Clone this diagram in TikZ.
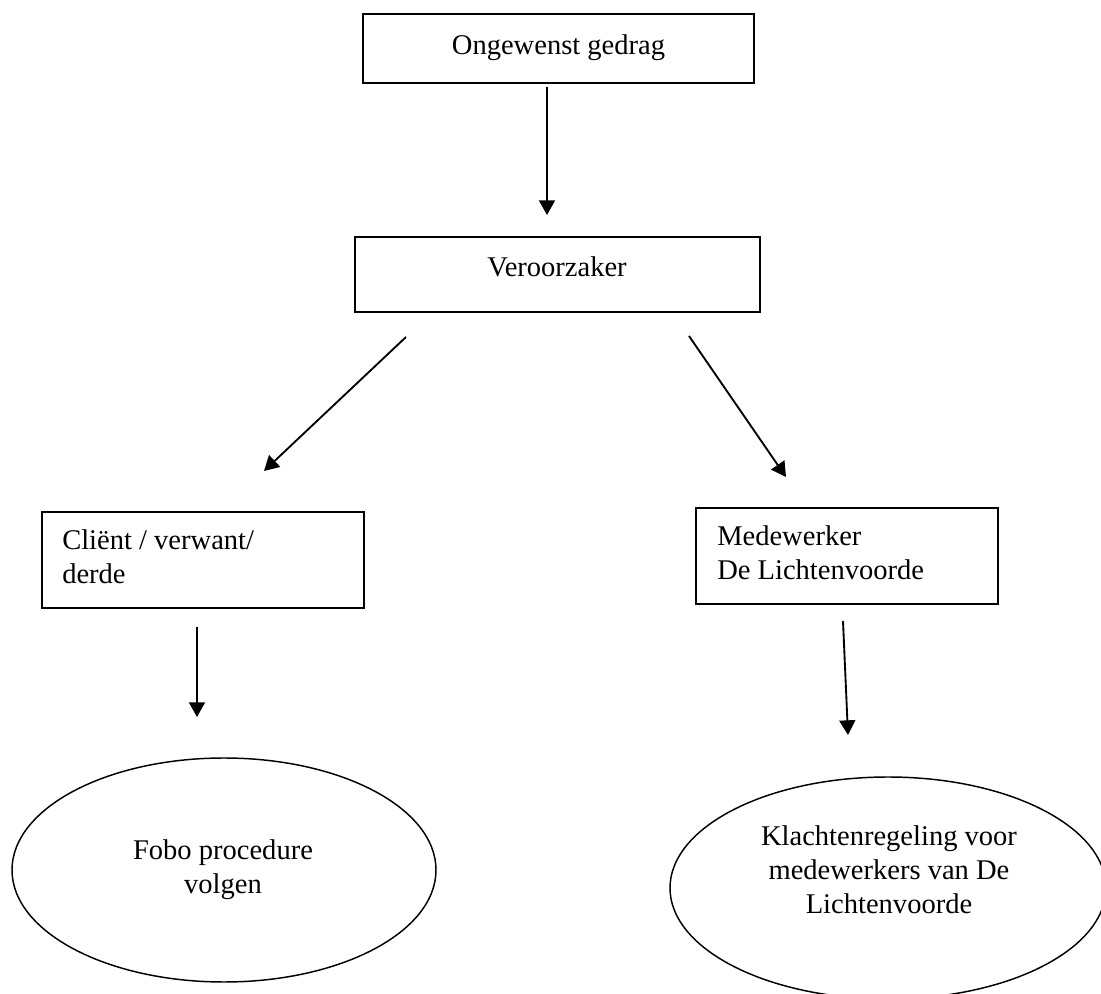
\documentclass[tikz,border=0pt]{standalone}
\usepackage{fontspec}
\setmainfont{Liberation Serif}
\usetikzlibrary{arrows.meta,shapes.geometric}
\tikzset{
  boxnode/.style={draw=black, line width=1.3pt, rectangle, inner sep=0pt},
  ovalnode/.style={draw=black, line width=1.1pt, ellipse, inner sep=0pt},
  txt/.style={inner sep=0pt, font=\fontsize{21.4pt}{25.5pt}\selectfont},
  conn/.style={line width=1.4pt, -{Triangle[length=11pt,width=12pt]}}
}
\begin{document}
\begin{tikzpicture}[x=0.75pt,y=-0.75pt]
\clip (0,0) rectangle (1101,994);
\fill[white] (0,0) rectangle (1101,994);
% shapes
\node[boxnode, minimum width=293.25pt, minimum height=51.75pt] (b1) at (558.5,48.5) {};
\node[boxnode, minimum width=303.75pt, minimum height=56.25pt] (b2) at (557.5,274.5) {};
\node[boxnode, minimum width=241.5pt, minimum height=72pt] (b3) at (203,560) {};
\node[boxnode, minimum width=226.5pt, minimum height=72pt] (b4) at (847,556) {};
\node[ovalnode, minimum width=318pt, minimum height=168pt] (e1) at (224,870) {};
\node[ovalnode, minimum width=327pt, minimum height=166.5pt] (e2) at (888,888) {};
% texts
\node[txt] (t1) at (558.5,47.5) {Ongewenst gedrag};
\node[txt] (t2) at (557,267) {Veroorzaker};
\node[txt, align=left, anchor=west] (t3) at (62,557) {Cliënt / verwant/\\derde};
\node[txt, align=left, anchor=west] (t4) at (717,552.5) {Medewerker\\De Lichtenvoorde};
\node[txt, align=center] (t5) at (223,869.5) {Fobo procedure\\volgen};
\node[txt, align=center] (t6) at (889,870) {Klachtenregeling voor\\medewerkers van De\\Lichtenvoorde};
% connector end points (arrows float between the shapes)
\coordinate (a1s) at (547,87);  \coordinate (a1e) at (547,215);
\coordinate (a2s) at (406,337); \coordinate (a2e) at (264,471);
\coordinate (a3s) at (689,336); \coordinate (a3e) at (786,477);
\coordinate (a4s) at (197,627); \coordinate (a4e) at (197,717);
\coordinate (a5s) at (843,621); \coordinate (a5e) at (848,735);
\draw[conn] (a1s) -- (a1e);
\draw[conn] (a2s) -- (a2e);
\draw[conn] (a3s) -- (a3e);
\draw[conn] (a4s) -- (a4e);
\draw[conn] (a5s) -- (a5e);
\end{tikzpicture}
\end{document}
